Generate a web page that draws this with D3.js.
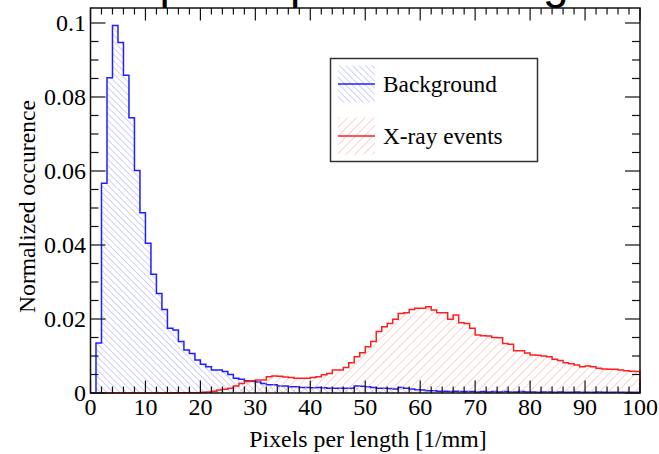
<!DOCTYPE html>
<html>
<head>
<meta charset="utf-8">
<script src="https://cdn.jsdelivr.net/npm/d3@7"></script>
<style>
  html, body { margin: 0; padding: 0; background: #fff; }
  svg { display: block; }
</style>
</head>
<body>
<svg id="chart" width="659" height="454"></svg>
<script>
// Histogram binning: 100 bins of width 1 between 0 and 100 [1/mm]
const binEdges = d3.range(0, 101, 1);

// Normalized occurrence per bin, background sample
const background = [
  0.0000, 0.0135, 0.0567, 0.0852, 0.0993, 0.0947, 0.0859, 0.0744, 0.0601, 0.0487,
  0.0405, 0.0321, 0.0269, 0.0226, 0.0175, 0.0170, 0.0139, 0.0116, 0.0107, 0.0089,
  0.0078, 0.0071, 0.0062, 0.0062, 0.0058, 0.0050, 0.0040, 0.0037, 0.0033, 0.0032,
  0.0030, 0.0026, 0.0022, 0.0022, 0.0019, 0.0019, 0.0017, 0.0017, 0.0015, 0.0015,
  0.0014, 0.0015, 0.0014, 0.0013, 0.0013, 0.0013, 0.0013, 0.0013, 0.0019, 0.0018,
  0.0017, 0.0015, 0.0013, 0.0013, 0.0012, 0.0011, 0.0015, 0.0013, 0.0011, 0.0009,
  0.0008, 0.0006, 0.0006, 0.0005, 0.0005, 0.0004, 0.0005, 0.0004, 0.0004, 0.0004,
  0.0003, 0.0004, 0.0003, 0.0004, 0.0003, 0.0004, 0.0003, 0.0003, 0.0004, 0.0003,
  0.0003, 0.0002, 0.0003, 0.0003, 0.0002, 0.0003, 0.0002, 0.0002, 0.0003, 0.0002,
  0.0002, 0.0002, 0.0003, 0.0002, 0.0002, 0.0002, 0.0002, 0.0002, 0.0002, 0.0002
];

// Normalized occurrence per bin, X-ray events
const xrayEvents = [
  0.0000, 0.0000, 0.0000, 0.0000, 0.0000, 0.0000, 0.0000, 0.0000, 0.0000, 0.0000,
  0.0000, 0.0000, 0.0000, 0.0000, 0.0000, 0.0001, 0.0001, 0.0001, 0.0001, 0.0001,
  0.0002, 0.0003, 0.0005, 0.0008, 0.0010, 0.0013, 0.0019, 0.0026, 0.0031, 0.0033,
  0.0035, 0.0035, 0.0044, 0.0046, 0.0045, 0.0043, 0.0042, 0.0040, 0.0040, 0.0040,
  0.0042, 0.0044, 0.0049, 0.0053, 0.0062, 0.0062, 0.0069, 0.0082, 0.0098, 0.0109,
  0.0125, 0.0139, 0.0166, 0.0179, 0.0188, 0.0199, 0.0215, 0.0217, 0.0226, 0.0229,
  0.0229, 0.0233, 0.0224, 0.0217, 0.0217, 0.0199, 0.0211, 0.0190, 0.0188, 0.0175,
  0.0157, 0.0155, 0.0154, 0.0150, 0.0149, 0.0134, 0.0132, 0.0114, 0.0114, 0.0108,
  0.0103, 0.0102, 0.0100, 0.0098, 0.0091, 0.0088, 0.0082, 0.0079, 0.0076, 0.0071,
  0.0073, 0.0071, 0.0067, 0.0065, 0.0064, 0.0064, 0.0062, 0.0060, 0.0059, 0.0058
];

const seriesNames = ["Background", "X-ray events"];
const xTickValues = [0, 10, 20, 30, 40, 50, 60, 70, 80, 90, 100];
const yTickValues = [0, 0.02, 0.04, 0.06, 0.08, 0.1];
const yTickLabels = ["0", "0.02", "0.04", "0.06", "0.08", "0.1"];
const xLabel = "Pixels per length [1/mm]";
const yLabel = "Normalized occurence";
const titleText = "Hit pixels per track length";

const svg = d3.select("#chart");
const W = 659, H = 454;
const frame = { left: 90.5, right: 640, top: 8, bottom: 393 };

svg.append("rect").attr("width", W).attr("height", H).attr("fill", "#fff");

const x = d3.scaleLinear().domain([0, 100]).range([frame.left, frame.right]);
const y = d3.scaleLinear().domain([0, 0.10405]).range([frame.bottom, frame.top]);

// hatch patterns
const defs = svg.append("defs");
function hatch(id, color, spacing, angle) {
  const p = defs.append("pattern")
    .attr("id", id)
    .attr("patternUnits", "userSpaceOnUse")
    .attr("width", spacing).attr("height", spacing)
    .attr("patternTransform", `rotate(${angle})`);
  p.append("line")
    .attr("x1", 0).attr("y1", 0).attr("x2", 0).attr("y2", spacing)
    .attr("stroke", color).attr("stroke-width", 1.1);
}
hatch("hatchBlue", "#a9a9ff", 4.6, -45);
hatch("hatchRed", "#ffaaaa", 6.2, 45);

// histogram outline as step polyline built from bin edges
function stepPoints(values) {
  const pts = [[binEdges[0], 0]];
  values.forEach((v, i) => {
    pts.push([binEdges[i], v]);
    pts.push([binEdges[i + 1], v]);
  });
  pts.push([binEdges[binEdges.length - 1], 0]);
  return pts;
}
const line = d3.line().x(d => x(d[0])).y(d => y(d[1]));

const plot = svg.append("g");
const hists = [
  { values: background, color: "#1f1fff", fill: "url(#hatchBlue)" },
  { values: xrayEvents, color: "#ff1f1f", fill: "url(#hatchRed)" }
];
hists.forEach(h => {
  const pts = stepPoints(h.values);
  plot.append("path").attr("d", line(pts) + "Z")
    .attr("fill", h.fill).attr("stroke", "none");
  plot.append("path").attr("d", line(pts))
    .attr("fill", "none").attr("stroke", h.color)
    .attr("stroke-width", 1.5).attr("stroke-linejoin", "miter");
});

// ticks on all four sides, pointing inward
const axisG = svg.append("g").attr("stroke", "#111").attr("stroke-width", 1.2);
const xMinor = d3.range(0, 101, 2);
const yMinor = d3.range(0, 0.1041, 0.005);
xMinor.forEach(v => {
  const major = Math.abs(v % 10) < 1e-9;
  const len = major ? 12.5 : 6.5;
  axisG.append("line").attr("x1", x(v)).attr("x2", x(v))
    .attr("y1", frame.bottom).attr("y2", frame.bottom - len);
  axisG.append("line").attr("x1", x(v)).attr("x2", x(v))
    .attr("y1", frame.top).attr("y2", frame.top + len);
});
yMinor.forEach(v => {
  const major = yTickValues.some(t => Math.abs(t - v) < 1e-9);
  const len = major ? 15 : 8;
  axisG.append("line").attr("y1", y(v)).attr("y2", y(v))
    .attr("x1", frame.left).attr("x2", frame.left + len);
  axisG.append("line").attr("y1", y(v)).attr("y2", y(v))
    .attr("x1", frame.right).attr("x2", frame.right - len);
});

// frame
svg.append("rect")
  .attr("x", frame.left).attr("y", frame.top)
  .attr("width", frame.right - frame.left).attr("height", frame.bottom - frame.top)
  .attr("fill", "none").attr("stroke", "#111").attr("stroke-width", 1.5);

// tick labels
const serif = "'Liberation Serif', 'DejaVu Serif', serif";
svg.append("g").selectAll("text").data(xTickValues).join("text")
  .attr("x", d => x(d)).attr("y", 415)
  .attr("text-anchor", "middle")
  .attr("font-family", serif).attr("font-size", 24).attr("fill", "#000")
  .text(d => d);
svg.append("g").selectAll("text").data(yTickValues).join("text")
  .attr("x", 86).attr("y", d => y(d))
  .attr("dy", "0.33em")
  .attr("text-anchor", "end")
  .attr("font-family", serif).attr("font-size", 24).attr("fill", "#000")
  .text((d, i) => yTickLabels[i]);

// axis titles
svg.append("text")
  .attr("x", 368).attr("y", 447)
  .attr("text-anchor", "middle")
  .attr("font-family", serif).attr("font-size", 23.8).attr("fill", "#000")
  .text(xLabel);
svg.append("text")
  .attr("transform", "translate(35,206.5) rotate(-90)")
  .attr("text-anchor", "middle")
  .attr("font-family", serif).attr("font-size", 23.6).attr("fill", "#000")
  .text(yLabel);

// title above the frame
svg.append("text")
  .attr("x", 90.5).attr("y", -2)
  .attr("font-family", "'Liberation Sans', Arial, sans-serif")
  .attr("font-size", 46).attr("fill", "#000")
  .text(titleText);

// legend
const leg = svg.append("g");
leg.append("rect")
  .attr("x", 330.5).attr("y", 58.5).attr("width", 207).attr("height", 103)
  .attr("fill", "#fff").attr("stroke", "#333").attr("stroke-width", 1.5);
const legRows = [
  { name: seriesNames[0], h: hists[0], yc: 84 },
  { name: seriesNames[1], h: hists[1], yc: 136 }
];
legRows.forEach(r => {
  leg.append("rect")
    .attr("x", 338).attr("y", r.yc - 18.5).attr("width", 37).attr("height", 37)
    .attr("fill", r.h.fill);
  leg.append("line")
    .attr("x1", 338).attr("x2", 375).attr("y1", r.yc).attr("y2", r.yc)
    .attr("stroke", r.h.color).attr("stroke-width", 1.5);
  leg.append("text")
    .attr("x", 383).attr("y", r.yc + 7.5)
    .attr("font-family", serif).attr("font-size", 23.3).attr("fill", "#000")
    .text(r.name);
});
</script>
</body>
</html>
